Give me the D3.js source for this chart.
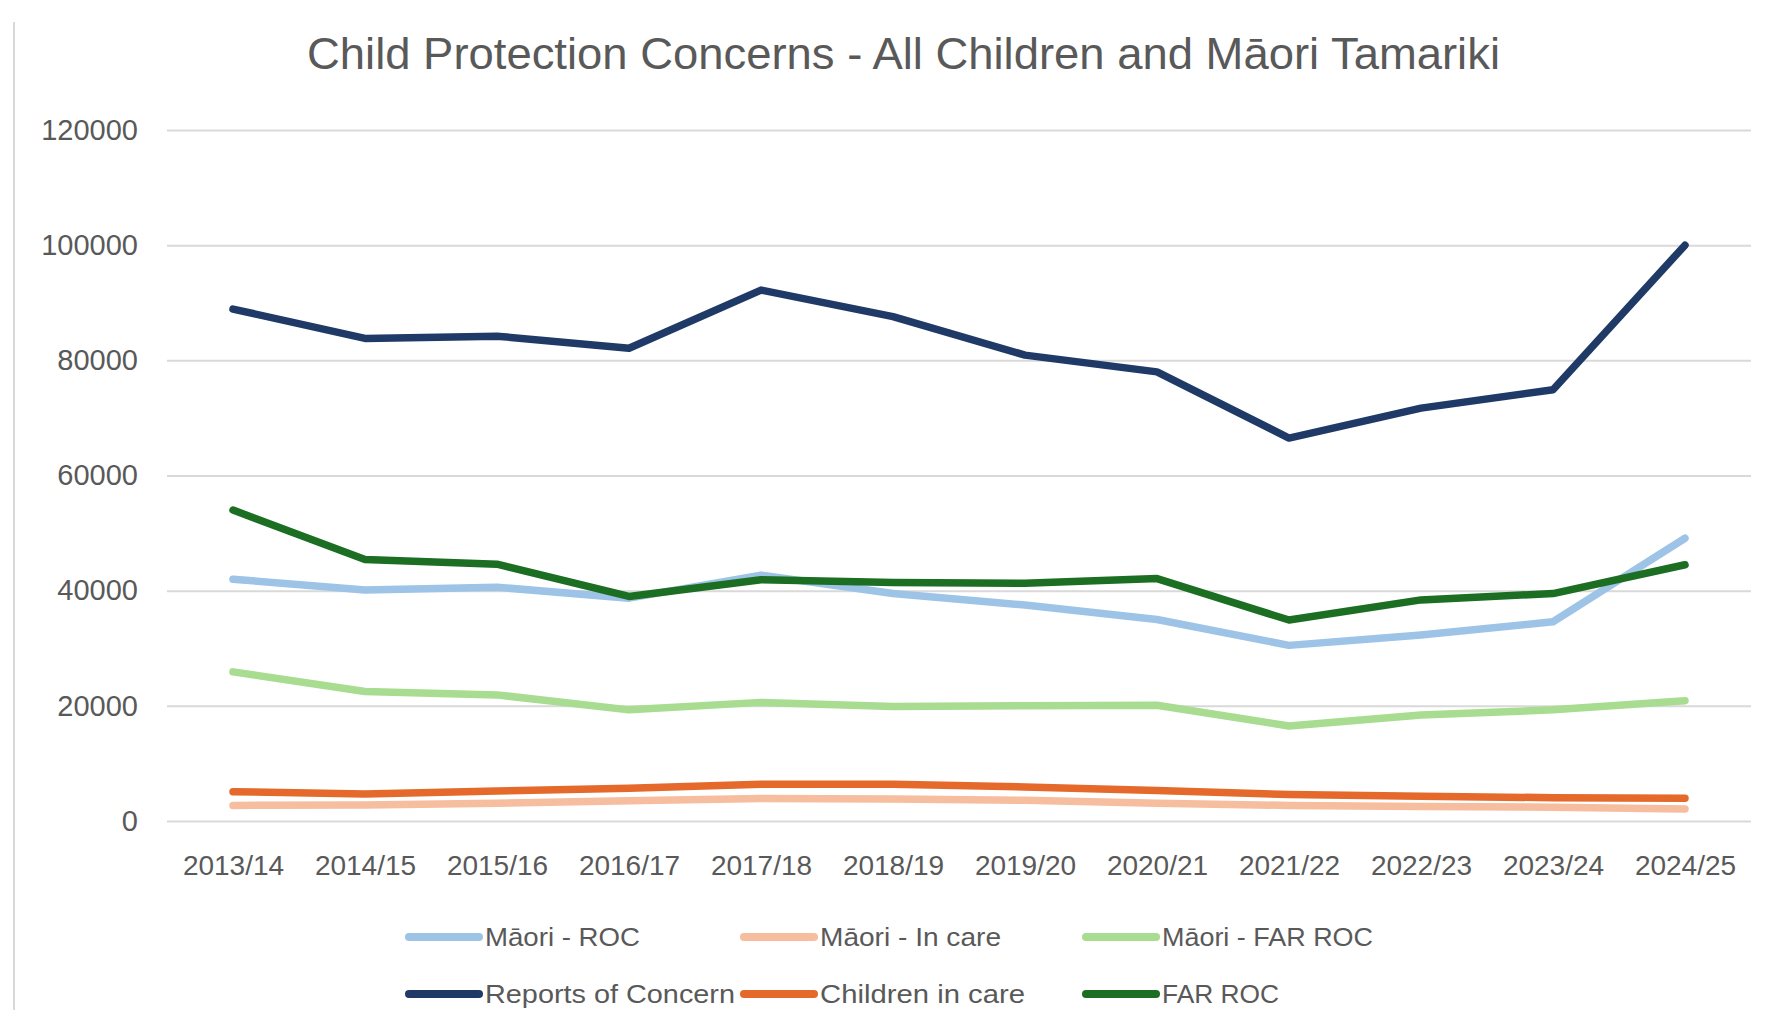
<!DOCTYPE html>
<html>
<head>
<meta charset="utf-8">
<script src="https://cdn.jsdelivr.net/npm/d3@7"></script>
<style>
  html, body { margin: 0; padding: 0; background: #ffffff; }
  svg { display: block; }
  text { font-family: "Liberation Sans", Arial, sans-serif; fill: #595959; }
</style>
</head>
<body>
<svg id="chart" width="1771" height="1010"></svg>
<script>
const categories = ["2013/14","2014/15","2015/16","2016/17","2017/18","2018/19","2019/20","2020/21","2021/22","2022/23","2023/24","2024/25"];
const yTicks = [0, 20000, 40000, 60000, 80000, 100000, 120000];

const maoriROC      = [42000, 40100, 40600, 38700, 42700, 39500, 37500, 35000, 30500, 32300, 34600, 49100];
const maoriInCare   = [2700, 2800, 3100, 3500, 3900, 3800, 3600, 3100, 2700, 2500, 2400, 2100];
const maoriFARROC   = [25900, 22500, 21900, 19300, 20600, 19900, 20000, 20100, 16500, 18400, 19300, 20900];
const reportsOfConcern = [88900, 83800, 84200, 82100, 92200, 87600, 80900, 78000, 66500, 71700, 74900, 100000];
const childrenInCare   = [5100, 4700, 5200, 5700, 6400, 6400, 5900, 5300, 4600, 4300, 4050, 3950];
const farROC           = [54000, 45400, 44600, 39000, 41900, 41400, 41300, 42100, 34900, 38400, 39500, 44500];

const seriesNames = ["Māori - ROC", "Māori - In care", "Māori - FAR ROC", "Reports of Concern", "Children in care", "FAR ROC"];
const seriesValues = [maoriROC, maoriInCare, maoriFARROC, reportsOfConcern, childrenInCare, farROC];
const seriesColors = ["#9dc3e6", "#f6bd9e", "#a8dc90", "#1f3a66", "#e4692b", "#1b6e22"];

const titleText = "Child Protection Concerns - All Children and Māori Tamariki";

const svg = d3.select("#chart");
const W = 1771, H = 1010;
const plotLeft = 167, plotRight = 1751, plotTop = 130, plotBottom = 821;

// chart border (left edge visible)
svg.append("line")
  .attr("x1", 14).attr("x2", 14).attr("y1", 22).attr("y2", H)
  .attr("stroke", "#d9d9d9").attr("stroke-width", 2);

// title
svg.append("text")
  .attr("x", (307 + 1500) / 2).attr("y", 69)
  .attr("text-anchor", "middle")
  .attr("font-size", 44)
  .attr("textLength", 1193).attr("lengthAdjust", "spacingAndGlyphs")
  .text(titleText);

const x = d3.scalePoint().domain(categories).range([plotLeft, plotRight]).padding(0.5);
const y = d3.scaleLinear().domain([0, 120000]).range([plotBottom, plotTop]);

// y axis with gridlines
const yAxis = svg.append("g")
  .attr("transform", `translate(${plotLeft},0)`)
  .call(d3.axisLeft(y).tickValues(yTicks).tickFormat(d3.format("d"))
        .tickSize(-(plotRight - plotLeft)).tickPadding(29));
yAxis.select(".domain").remove();
yAxis.selectAll(".tick line").attr("stroke", "#d9d9d9").attr("stroke-width", 2);
yAxis.selectAll(".tick text").attr("font-size", 29).attr("fill", "#595959")
  .style("font-family", "'Liberation Sans', Arial, sans-serif");

// x axis
const xAxis = svg.append("g")
  .attr("transform", `translate(0,${plotBottom})`)
  .call(d3.axisBottom(x).tickSize(0).tickPadding(34));
xAxis.select(".domain").remove();
xAxis.selectAll(".tick text").attr("font-size", 28).attr("fill", "#595959")
  .style("font-family", "'Liberation Sans', Arial, sans-serif");

// lines
const line = d3.line()
  .x((d, i) => x(categories[i]))
  .y(d => y(d));

seriesValues.forEach((vals, k) => {
  svg.append("path")
    .datum(vals)
    .attr("fill", "none")
    .attr("stroke", seriesColors[k])
    .attr("stroke-width", 7.5)
    .attr("stroke-linejoin", "round")
    .attr("stroke-linecap", "round")
    .attr("d", line);
});

// legend
const legendCols = [405, 740, 1082];
const legendRows = [937, 994];
const legendTextW = [155, 181, 211, 250, 205, 117];
seriesNames.forEach((name, k) => {
  const cx = legendCols[k % 3], cy = legendRows[Math.floor(k / 3)];
  const g = svg.append("g");
  g.append("line")
    .attr("x1", cx + 4).attr("x2", cx + 74)
    .attr("y1", cy).attr("y2", cy)
    .attr("stroke", seriesColors[k]).attr("stroke-width", 8)
    .attr("stroke-linecap", "round");
  g.append("text")
    .attr("x", cx + 80).attr("y", cy + 9)
    .attr("font-size", 26)
    .attr("textLength", legendTextW[k]).attr("lengthAdjust", "spacingAndGlyphs")
    .text(name);
});
</script>
</body>
</html>
